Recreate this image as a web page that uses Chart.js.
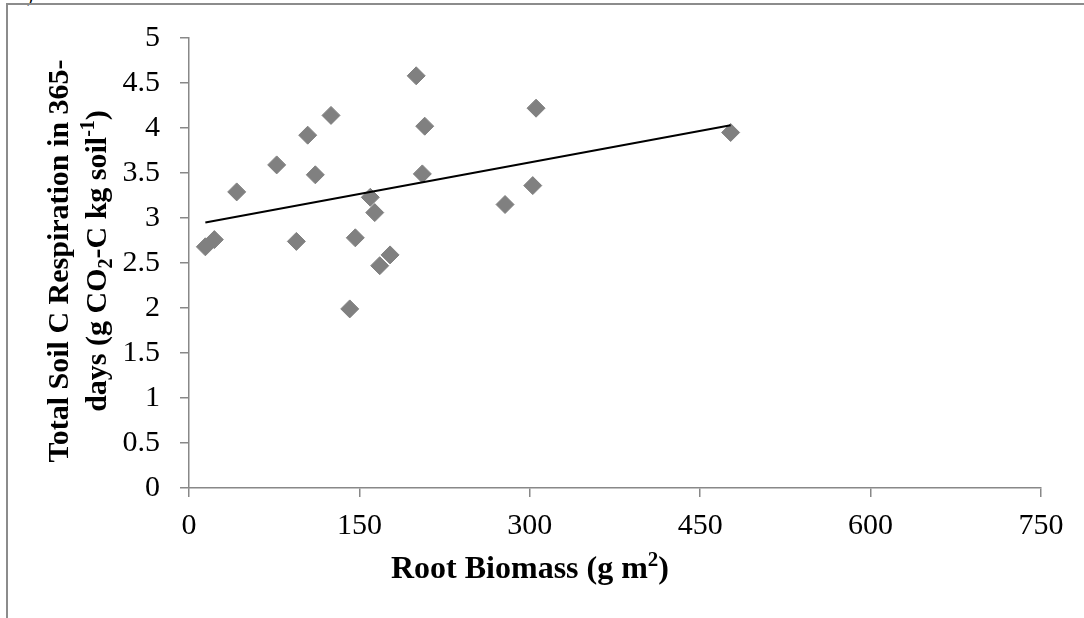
<!DOCTYPE html>
<html>
<head>
<meta charset="UTF-8">
<title>Root biomass vs soil C respiration</title>
<style>
	body { margin: 0; background: #fff; }
	#wrap { position: relative; width: 1084px; height: 618px; overflow: hidden; }
	#frame { position: absolute; left: 6px; top: 3px; right: -10px; bottom: -10px; border-top: 2px solid #8c8c8c; border-left: 2px solid #8c8c8c; }
	#cut { position: absolute; left: 27px; top: -14px; font: 18px "Liberation Serif"; }
	canvas { position: absolute; left: 0; top: 0; }
</style>
</head>
<body>
<div id="wrap">
	<span id="cut">)</span>
	<div id="frame"></div>
	<canvas id="myChart" width="1084" height="618"></canvas>
</div>
<script src="https://cdn.jsdelivr.net/npm/chart.js@4.4.0/dist/chart.umd.min.js"></script>
<script type="text/javascript">
// values
const rootBiomass = [14.4, 22.3, 42, 77.2, 94.5, 104.5, 111.2, 125, 141.5, 146.4, 159.6, 163.5, 167.9, 177, 200, 205.4, 207.5, 278.2, 302.6, 305.5, 476.8];
const respiration = [2.68, 2.76, 3.29, 3.59, 2.74, 3.92, 3.48, 4.14, 1.99, 2.78, 3.23, 3.06, 2.47, 2.59, 4.58, 3.49, 4.02, 3.15, 3.36, 4.22, 3.95];
// linear trendline end points
const trendX = [14.4, 476.8];
const trendY = [2.95, 4.03];
// axis ticks
const xTicks = [0, 150, 300, 450, 600, 750];
const yTicks = [0, 0.5, 1, 1.5, 2, 2.5, 3, 3.5, 4, 4.5, 5];

const axisGray = '#888888';
const serif = 'Liberation Serif';

// axis titles with real sub/superscripts
const xTitle = [{t: 'Root Biomass (g m'}, {t: '2', sup: true}, {t: ')'}];
const yTitle1 = [{t: 'Total Soil C Respiration in 365-'}];
const yTitle2 = [{t: 'days (g CO'}, {t: '2', sub: true}, {t: '-C kg soil'}, {t: '-1', sup: true}, {t: ')'}];

function richText(c, parts, x, y, size, rot) {
	c.save();
	c.translate(x, y);
	c.rotate(rot);
	c.fillStyle = '#000';
	c.textBaseline = 'middle';
	c.textAlign = 'left';
	let w = 0;
	parts.forEach(p => {
		c.font = 'bold ' + (p.sub || p.sup ? Math.round(size * 0.65) : size) + 'px "' + serif + '"';
		p.w = c.measureText(p.t).width;
		w += p.w;
	});
	let cx = -w / 2;
	parts.forEach(p => {
		c.font = 'bold ' + (p.sub || p.sup ? Math.round(size * 0.65) : size) + 'px "' + serif + '"';
		let dy = p.sub ? size * 0.3 : (p.sup ? -size * 0.3 : 0);
		c.fillText(p.t, cx, dy);
		cx += p.w;
	});
	c.restore();
}

const titlesPlugin = {
	id: 'axisTitles',
	afterDraw: function(chart) {
		const c = chart.ctx;
		richText(c, xTitle, 530, 570, 32, 0);
		richText(c, yTitle1, 60, 261, 30, -Math.PI / 2);
		richText(c, yTitle2, 98, 261, 30, -Math.PI / 2);
	}
};

var ctx = document.getElementById('myChart').getContext('2d');
var chart = new Chart(ctx, {
	type: 'scatter',
	data: {
		datasets: [{
			type: 'line',
			label: 'trend',
			data: trendX.map((x, i) => ({x: x, y: trendY[i]})),
			borderColor: '#000',
			borderWidth: 2,
			pointRadius: 0,
			fill: false,
			order: 0
		}, {
			label: 'respiration',
			data: rootBiomass.map((x, i) => ({x: x, y: respiration[i]})),
			pointStyle: 'rectRot',
			pointRadius: 9,
			pointBackgroundColor: '#808080',
			pointBorderColor: '#808080',
			pointBorderWidth: 1,
			order: 1
		}]
	},
	options: {
		responsive: false,
		animation: false,
		layout: { padding: { left: 0, top: 34, right: 43, bottom: 0 } },
		plugins: { legend: { display: false }, tooltip: { enabled: false } },
		scales: {
			x: {
				type: 'linear',
				min: 0, max: 750,
				afterBuildTicks: function(s) { s.ticks = xTicks.map(v => ({value: v})); },
				afterFit: function(s) { s.height = 130; },
				grid: { drawOnChartArea: false, tickLength: 9, color: axisGray, lineWidth: 1.5 },
				border: { color: axisGray, width: 1.5 },
				ticks: { color: '#000', font: { family: serif, size: 30 }, padding: 11, maxRotation: 0,
					callback: function(v) { return String(v); } }
			},
			y: {
				type: 'linear',
				min: 0, max: 5,
				afterBuildTicks: function(s) { s.ticks = yTicks.map(v => ({value: v})); },
				afterFit: function(s) { s.width = 189; },
				grid: { drawOnChartArea: false, tickLength: 9, color: axisGray, lineWidth: 1.5 },
				border: { color: axisGray, width: 1.5 },
				ticks: { color: '#000', font: { family: serif, size: 30 }, padding: 20,
					callback: function(v) { return String(v); } }
			}
		}
	},
	plugins: [titlesPlugin]
});
</script>
</body>
</html>
